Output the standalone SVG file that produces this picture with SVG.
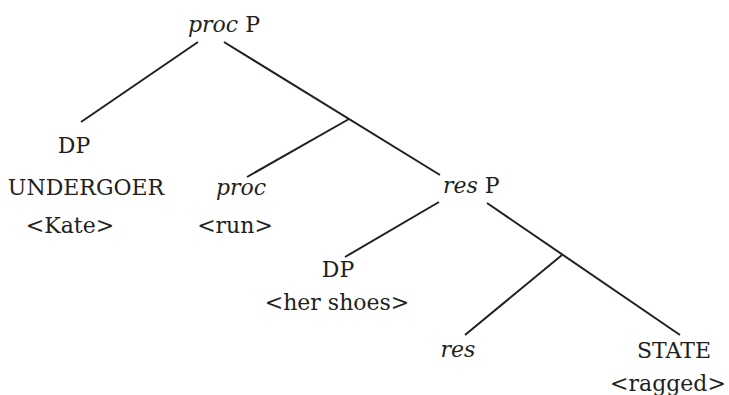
<svg xmlns="http://www.w3.org/2000/svg" width="729" height="395" viewBox="0 0 729 395">
  <style>
    text { font-family: "DejaVu Serif", serif; font-size: 22px; fill: #231f20; }
    .it { font-style: italic; }
    .c { text-anchor: middle; }
    line { stroke: #231f20; stroke-width: 2; stroke-linecap: butt; }
  </style>
  <rect width="729" height="395" fill="#ffffff"/>

  <!-- branches of the tree -->
  <g id="edges">
    <line x1="198" y1="42" x2="81" y2="122"/>
    <line x1="224" y1="42" x2="440" y2="175"/>
    <line x1="349" y1="119" x2="247" y2="177"/>
    <line x1="439" y1="202" x2="345" y2="257"/>
    <line x1="487" y1="203" x2="680" y2="335"/>
    <line x1="562" y1="255" x2="465" y2="335"/>
  </g>

  <g id="procP">
    <text x="188" y="32"><tspan class="it">proc</tspan> P</text>
  </g>

  <g id="dp-undergoer">
    <text class="c" x="74" y="153">DP</text>
    <text class="c" x="86" y="195">UNDERGOER</text>
    <text class="c" x="70" y="233" font-size="21">&lt;Kate&gt;</text>
  </g>

  <g id="proc">
    <text class="c it" x="241" y="195">proc</text>
    <text class="c" x="235" y="233">&lt;run&gt;</text>
  </g>

  <g id="resP">
    <text x="443" y="193"><tspan class="it">res</tspan> P</text>
  </g>

  <g id="dp-shoes">
    <text class="c" x="338" y="277">DP</text>
    <text class="c" x="337" y="310">&lt;her shoes&gt;</text>
  </g>

  <g id="res">
    <text class="c it" x="458" y="357">res</text>
  </g>

  <g id="state">
    <text class="c" x="674" y="358">STATE</text>
    <text class="c" x="668" y="391">&lt;ragged&gt;</text>
  </g>
</svg>
